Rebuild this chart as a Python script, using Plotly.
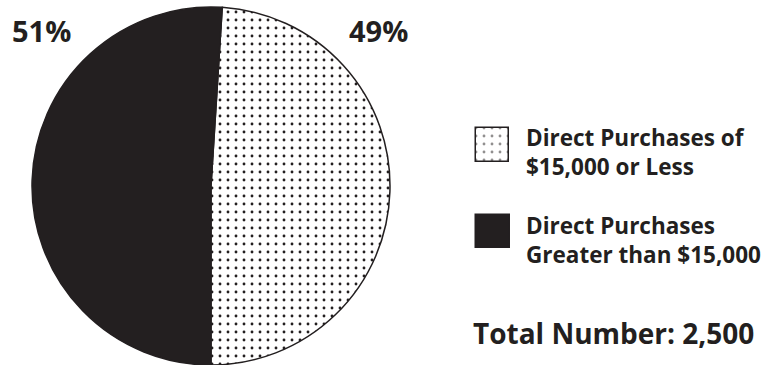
import plotly.graph_objects as go

categories = ["Direct Purchases of<br>$15,000 or Less", "Direct Purchases<br>Greater than $15,000"]
values = [49, 51]
total_label = "Total Number: 2,500"

BLACK = "#231f20"
FONT = "Open Sans"

fig = go.Figure()
fig.add_trace(go.Pie(
    labels=categories, values=values, sort=False, direction="clockwise",
    rotation=360 * (1 - values[0] / sum(values)) - 180,
    textinfo="none", hoverinfo="label+percent",
    marker=dict(colors=["white", BLACK], line=dict(color=BLACK, width=1.5),
                pattern=dict(shape=[".", ""], fgcolor=BLACK, bgcolor="white", size=8, solidity=0.1)),
    domain=dict(x=[32 / 781, 390 / 781], y=[0, 358 / 365]),
    showlegend=False,
))

# legend swatches as bars in small axes (padded so the outline is not clipped)
PAD = 4
sw = [dict(x=[476, 509], y=[128, 162], pat=".", col="white"),
      dict(x=[476, 510], y=[215, 248], pat="", col=BLACK)]
for i, s in enumerate(sw):
    ax = "" if i == 0 else str(i + 1)
    wpx = s["x"][1] - s["x"][0]
    hpx = s["y"][1] - s["y"][0]
    fig.add_trace(go.Bar(x=[0], y=[1], width=1, xaxis="x" + ax, yaxis="y" + ax, cliponaxis=False,
                         marker=dict(color=s["col"], line=dict(color=BLACK, width=1.5),
                                     pattern=dict(shape=s["pat"], fgcolor=BLACK, bgcolor=s["col"], size=8, solidity=0.1)),
                         hoverinfo="skip", showlegend=False))
    fig.update_layout(**{
        "xaxis" + ax: dict(domain=[(s["x"][0] - PAD) / 781, (s["x"][1] + PAD) / 781],
                           range=[-0.5 - PAD / wpx, 0.5 + PAD / wpx], visible=False, fixedrange=True, anchor="y" + ax),
        "yaxis" + ax: dict(domain=[(365 - s["y"][1] - PAD) / 365, (365 - s["y"][0] + PAD) / 365],
                           range=[-PAD / hpx, 1 + PAD / hpx], visible=False, fixedrange=True, anchor="x" + ax),
    })

pcts = [round(v * 100 / sum(values)) for v in values]
ann = [
    dict(text=f"{pcts[1]}%", x=10 / 781, y=(365 - 31) / 365, size=29),
    dict(text=f"{pcts[0]}%", x=347 / 781, y=(365 - 31) / 365, size=29),
    dict(text=categories[0], x=524 / 781, y=(365 - 152) / 365, size=22.5),
    dict(text=categories[1], x=524 / 781, y=(365 - 240) / 365, size=22.5),
    dict(text=total_label, x=471 / 781, y=(365 - 333) / 365, size=28),
]
fig.update_layout(annotations=[
    dict(text=a["text"], x=a["x"], y=a["y"], xref="paper", yref="paper", xanchor="left", yanchor="middle",
         showarrow=False, align="left", font=dict(family=FONT, size=a["size"], color=BLACK, weight="bold"))
    for a in ann])

fig.update_layout(width=781, height=365, margin=dict(l=0, r=0, t=0, b=0),
                  paper_bgcolor="white", plot_bgcolor="white", bargap=0)
fig.write_html("out.html")
